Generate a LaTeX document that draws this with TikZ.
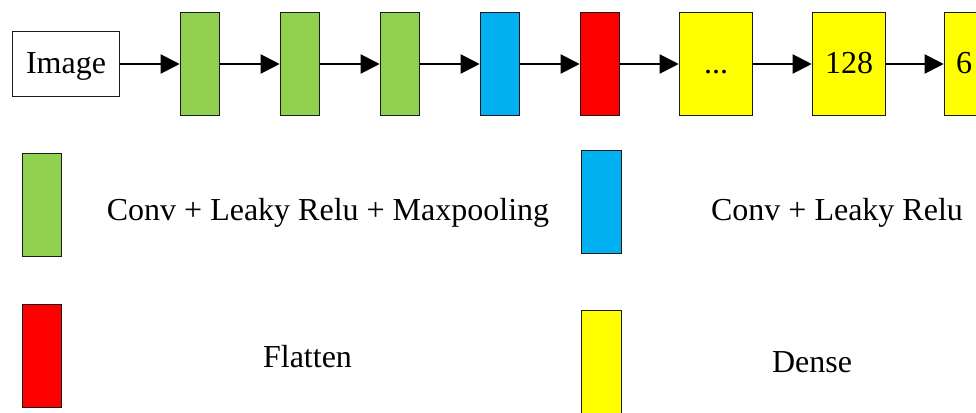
\documentclass[tikz,border=0pt]{standalone}
\usepackage{fontspec}
\setmainfont{Liberation Serif}
\newfontfamily\tnr{Liberation Serif}
\usetikzlibrary{arrows.meta}
\definecolor{cgreen}{HTML}{92D050}
\definecolor{cblue}{HTML}{00B0F0}
\definecolor{cred}{HTML}{FF0000}
\definecolor{cyellow}{HTML}{FFFF00}
\definecolor{edge}{HTML}{1A1A1A}
\begin{document}
\begin{tikzpicture}[x=1pt,y=-1pt,
  font=\tnr\fontsize{32}{38}\selectfont,
  layer/.style={draw=edge, line width=1.6pt, rectangle, inner sep=0pt,
    minimum width=39pt, minimum height=103pt},
  wide/.style={layer, minimum width=73pt, text height=22pt, text depth=2pt},
  conn/.style={line width=2pt, -{Triangle[length=19pt,width=19pt]}},
  lbl/.style={anchor=base, inner sep=0pt}]
\useasboundingbox (0,0) rectangle (976,412);
\clip (0,0) rectangle (976,412);
% top row
\node[draw=edge, line width=1.6pt, rectangle, inner sep=0pt,
  minimum width=107pt, minimum height=65pt] (img) at (66,64) {};
\node[lbl] (imgt) at (66,73) {Image};
\node[layer, fill=cgreen] (g1) at (200,64) {};
\node[layer, fill=cgreen] (g2) at (300,64) {};
\node[layer, fill=cgreen] (g3) at (400,64) {};
\node[layer, fill=cblue] (b1) at (500,64) {};
\node[layer, fill=cred] (r1) at (600,64) {};
\node[wide, fill=cyellow] (y1) at (716,64) {...};
\node[wide, fill=cyellow] (y2) at (849,64) {128};
\node[wide, fill=cyellow, text width=50pt, align=left] (y3) at (981,64) {6};
\draw[conn] (img) -- (g1);
\draw[conn] (g1) -- (g2);
\draw[conn] (g2) -- (g3);
\draw[conn] (g3) -- (b1);
\draw[conn] (b1) -- (r1);
\draw[conn] (r1) -- (y1);
\draw[conn] (y1) -- (y2);
\draw[conn] (y2) -- (y3);
% legend
\node[layer, fill=cgreen] (lg) at (42,205) {};
\node[layer, fill=cred] (lr) at (42,356) {};
\node[layer, minimum width=40pt, fill=cblue] (lb) at (601.5,202) {};
\node[layer, minimum width=40pt, fill=cyellow] (ly) at (601.5,362) {};
\node[lbl] (tg) at (328,220) {Conv + Leaky Relu + Maxpooling};
\node[lbl] (tb) at (837,220) {Conv + Leaky Relu};
\node[lbl] (tr) at (307.5,367) {Flatten};
\node[lbl] (ty) at (812,372) {Dense};
\end{tikzpicture}
\end{document}
